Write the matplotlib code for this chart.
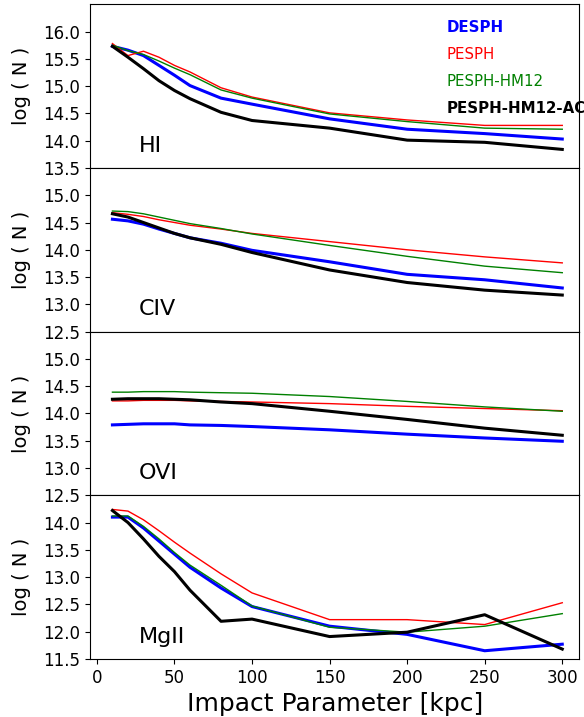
import numpy as np
import matplotlib
matplotlib.use('Agg')
import matplotlib.pyplot as plt

# Impact parameter [kpc]
b = [10, 20, 30, 40, 50, 60, 80, 100, 150, 200, 250, 300]

# log column densities
hi_desph = [15.73, 15.66, 15.56, 15.38, 15.20, 15.01, 14.78, 14.67, 14.40, 14.21, 14.13, 14.03]
hi_pesph = [15.78, 15.56, 15.64, 15.53, 15.38, 15.26, 14.97, 14.80, 14.51, 14.38, 14.28, 14.28]
hi_hm12 = [15.75, 15.65, 15.58, 15.46, 15.33, 15.21, 14.93, 14.78, 14.49, 14.35, 14.23, 14.21]
hi_ac = [15.73, 15.53, 15.32, 15.10, 14.92, 14.77, 14.52, 14.37, 14.23, 14.01, 13.97, 13.84]

civ_desph = [14.56, 14.53, 14.47, 14.38, 14.30, 14.22, 14.12, 13.99, 13.78, 13.55, 13.45, 13.30]
civ_pesph = [14.68, 14.65, 14.61, 14.55, 14.50, 14.45, 14.38, 14.30, 14.15, 14.00, 13.87, 13.76]
civ_hm12 = [14.71, 14.70, 14.66, 14.60, 14.54, 14.48, 14.39, 14.29, 14.08, 13.88, 13.70, 13.58]
civ_ac = [14.66, 14.60, 14.50, 14.40, 14.30, 14.22, 14.10, 13.95, 13.63, 13.40, 13.26, 13.17]

ovi_desph = [13.79, 13.80, 13.81, 13.81, 13.81, 13.79, 13.78, 13.76, 13.70, 13.62, 13.55, 13.49]
ovi_pesph = [14.23, 14.23, 14.24, 14.24, 14.24, 14.23, 14.22, 14.21, 14.18, 14.13, 14.09, 14.05]
ovi_hm12 = [14.39, 14.39, 14.40, 14.40, 14.40, 14.39, 14.38, 14.37, 14.31, 14.22, 14.12, 14.04]
ovi_ac = [14.26, 14.27, 14.27, 14.27, 14.26, 14.25, 14.21, 14.18, 14.04, 13.89, 13.73, 13.60]

mgii_desph = [14.10, 14.10, 13.90, 13.66, 13.42, 13.18, 12.80, 12.46, 12.10, 11.95, 11.65, 11.77]
mgii_pesph = [14.24, 14.21, 14.05, 13.85, 13.64, 13.44, 13.06, 12.71, 12.22, 12.22, 12.13, 12.53]
mgii_hm12 = [14.12, 14.12, 13.93, 13.70, 13.45, 13.22, 12.85, 12.47, 12.08, 11.99, 12.10, 12.33]
mgii_ac = [14.22, 14.00, 13.70, 13.38, 13.10, 12.76, 12.19, 12.23, 11.91, 11.99, 12.31, 11.68]

ions = ['HI', 'CIV', 'OVI', 'MgII']
ymins = [13.5, 12.5, 12.5, 11.5]
data = [
    [hi_desph, hi_pesph, hi_hm12, hi_ac],
    [civ_desph, civ_pesph, civ_hm12, civ_ac],
    [ovi_desph, ovi_pesph, ovi_hm12, ovi_ac],
    [mgii_desph, mgii_pesph, mgii_hm12, mgii_ac],
]

runs = ['DESPH', 'PESPH', 'PESPH-HM12', 'PESPH-HM12-AC']
colors = ['blue', 'red', 'green', 'black']
widths = [2.2, 1.0, 1.0, 2.2]
weights = ['bold', 'normal', 'normal', 'bold']

fig, axes = plt.subplots(4, 1, sharex=True, figsize=(5.84, 7.17), dpi=100)
fig.subplots_adjust(left=0.154, right=0.992, top=0.994, bottom=0.081, hspace=0)

for i, ax in enumerate(axes):
    for j in range(4):
        ax.plot(b, data[i][j], color=colors[j], lw=widths[j])
    ax.set_ylim(ymins[i], ymins[i] + 3.0)
    ax.set_yticks(np.arange(ymins[i], ymins[i] + 2.75, 0.5))
    ax.set_ylabel('log ( N )', fontsize=14, labelpad=9)
    ax.tick_params(labelsize=12)
    ax.text(0.1, 0.1, ions[i], transform=ax.transAxes, fontsize=16,
            ha='left', va='baseline')
    if i < 3:
        ax.tick_params(axis='x', bottom=False)

axes[-1].set_xlim(-4.5, 311)
axes[-1].set_xticks([0, 50, 100, 150, 200, 250, 300])
axes[-1].set_xlabel('Impact Parameter [kpc]', fontsize=18)

# run labels in the top panel
ypos = [0.83, 0.667, 0.498, 0.334]
for j in range(4):
    axes[0].text(0.729, ypos[j], runs[j], transform=axes[0].transAxes,
                 color=colors[j], fontsize=10.8, fontweight=weights[j],
                 ha='left', va='baseline')

fig.savefig('out.png', dpi=100)
